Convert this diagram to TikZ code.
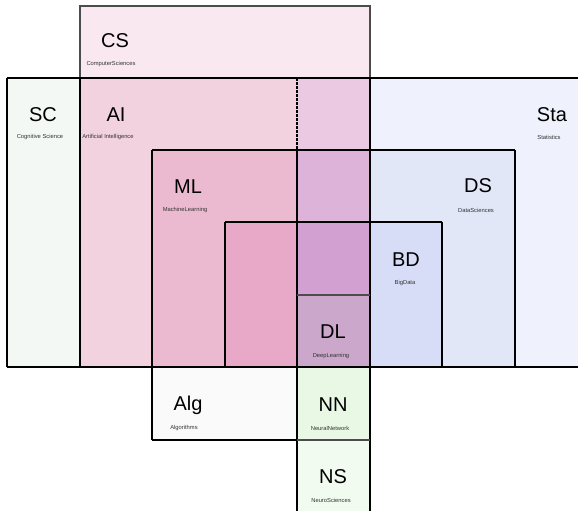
\documentclass[tikz,border=0pt]{standalone}
\usepackage{fontspec}
\setmainfont{Liberation Sans}
\definecolor{cCS}{HTML}{F9E8F0}
\definecolor{cSC}{HTML}{F4F8F4}
\definecolor{cAI}{HTML}{F2D2DF}
\definecolor{cAIx}{HTML}{ECC9E3}
\definecolor{cSta}{HTML}{EFF1FD}
\definecolor{cML}{HTML}{ECBAD0}
\definecolor{cMLx}{HTML}{DEB3DA}
\definecolor{cDS}{HTML}{E2E7F8}
\definecolor{cIn}{HTML}{E8A8C8}
\definecolor{cInx}{HTML}{D3A0D2}
\definecolor{cDL}{HTML}{CBA7CB}
\definecolor{cBD}{HTML}{D7DDF7}
\definecolor{cAlg}{HTML}{FAFAFA}
\definecolor{cNN}{HTML}{E9F8E4}
\definecolor{cNS}{HTML}{F2FBEF}
\begin{document}
\begin{tikzpicture}[x=1pt,y=-1pt,
  big/.style={font=\fontsize{20}{24}\selectfont, inner sep=0pt, text=black},
  small/.style={font=\fontsize{5.8}{7}\selectfont, inner sep=0pt, text=black!80},
  edge/.style={line width=1.2pt, draw=black},
  softedge/.style={line width=1.2pt, draw=black!70}]
\useasboundingbox (0,0) rectangle (578,511);
% fills
\fill[cCS] (80,6) rectangle (370,78);
\fill[cSC] (7,78) rectangle (80,367);
\fill[cAI] (80,78) rectangle (297,367);
\fill[cAIx] (297,78) rectangle (370,150);
\fill[cSta] (370,78) rectangle (578,367);
\fill[cML] (152,150) rectangle (297,367);
\fill[cMLx] (297,150) rectangle (370,222);
\fill[cDS] (370,150) rectangle (515,367);
\fill[cIn] (225,222) rectangle (297,367);
\fill[cInx] (297,222) rectangle (370,295);
\fill[cBD] (370,222) rectangle (442,367);
\fill[cDL] (297,295) rectangle (370,367);
\fill[cAlg] (152,367) rectangle (297,440);
\fill[cNN] (297,367) rectangle (370,440);
\fill[cNS] (297,440) rectangle (370,511);
% lines
\draw[softedge] (80,78) -- (80,6) -- (370,6) -- (370,78);
\draw[edge] (7,78) -- (578,78);
\draw[edge] (7,367) -- (578,367);
\draw[edge] (7,78) -- (7,367);
\draw[edge] (80,78) -- (80,367);
\draw[edge, dash pattern=on 2.5pt off 1.5pt] (297,78) -- (297,150);
\draw[edge] (297,150) -- (297,511);
\draw[edge] (370,78) -- (370,511);
\draw[edge] (152,150) -- (515,150);
\draw[edge] (152,150) -- (152,440);
\draw[edge] (515,150) -- (515,367);
\draw[edge] (225,222) -- (442,222);
\draw[edge] (225,222) -- (225,367);
\draw[edge] (442,222) -- (442,367);
\draw[softedge] (297,295) -- (370,295);
\draw[edge] (152,440) -- (297,440);
\draw[softedge] (297,440) -- (370,440);
% labels
\node[big] (csT) at (115,41) {CS};
\node[small] (csS) at (111,64) {ComputerSciences};
\node[big] (scT) at (43,115) {SC};
\node[small] (scS) at (40,137) {Cognitive Science};
\node[big] (aiT) at (116,115) {AI};
\node[small] (aiS) at (108,137) {Artificial Intelligence};
\node[big] (staT) at (552,115) {Sta};
\node[small] (staS) at (549,137) {Statistics};
\node[big] (mlT) at (188,187) {ML};
\node[small] (mlS) at (185,210) {MachineLearning};
\node[big] (dsT) at (478,186) {DS};
\node[small] (dsS) at (476,210) {DataSciences};
\node[big] (bdT) at (406,260) {BD};
\node[small] (bdS) at (405,283) {BigData};
\node[big] (dlT) at (333,332) {DL};
\node[small] (dlS) at (331,356) {DeepLearning};
\node[big] (algT) at (188,405) {Alg};
\node[small] (algS) at (184,428) {Algorithms};
\node[big] (nnT) at (333,405) {NN};
\node[small] (nnS) at (330,428) {NeuralNetwork};
\node[big] (nsT) at (333,477) {NS};
\node[small] (nsS) at (331,500) {NeuroSciences};
\end{tikzpicture}
\end{document}
